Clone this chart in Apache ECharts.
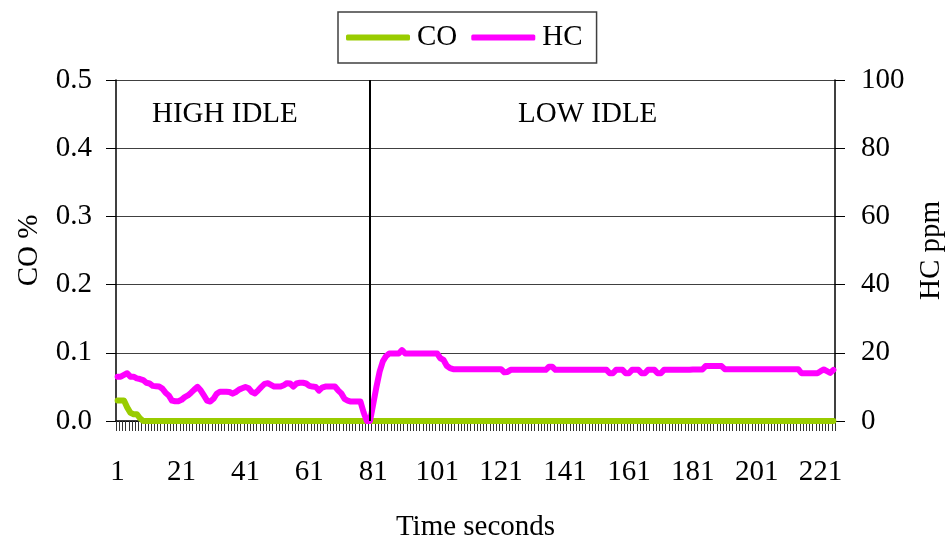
<!DOCTYPE html>
<html>
<head>
<meta charset="utf-8">
<script src="https://cdn.jsdelivr.net/npm/echarts@6/dist/echarts.min.js"></script>
<style>
html,body{margin:0;padding:0;background:#fff;}
#chart{width:947px;height:538px;}
</style>
</head>
<body>
<div id="chart"></div>
<script>
// Time in seconds (categories)
const categories = [];
for (let i = 1; i <= 225; i++) categories.push(String(i));

// CO % values (left axis)
const coHead = [0.03, 0.03, 0.03, 0.02, 0.012, 0.01, 0.01, 0.004];
const coValues = categories.map((c, i) => (i < coHead.length ? coHead[i] : 0));

// HC ppm values (right axis)
const hcValues = [
  13, 13, 13.5, 14, 13, 13, 12.5, 12.3, 12, 11.2,
  11, 10.3, 10.2, 10.1, 9.5, 8.3, 7.5, 6, 5.8, 5.8,
  6.2, 7, 7.5, 8.3, 9.2, 10, 9, 7.5, 6, 5.7,
  6.5, 8, 8.6, 8.6, 8.6, 8.5, 8, 8.5, 9.2, 9.6,
  10, 9.6, 8.5, 8.1, 9, 10, 10.9, 11.1, 10.6, 10.1,
  10.1, 10.1, 10.5, 11.1, 11, 10.1, 11, 11.2, 11.2, 11,
  10.3, 10.1, 10, 8.9, 9.8, 10.1, 10.1, 10.1, 10.1, 9,
  8.1, 6.5, 6, 5.7, 5.7, 5.7, 5.7, 2.5, 0, 0,
  5, 10, 14.5, 17.5, 19, 19.8, 19.8, 19.8, 19.8, 20.8,
  19.8, 19.8, 19.8, 19.8, 19.8, 19.8, 19.8, 19.8, 19.8, 19.8,
  19.8, 18.4, 17.9, 16.2, 15.5, 15.2, 15.2, 15.2, 15.2, 15.2,
  15.2, 15.2, 15.2, 15.2, 15.2, 15.2, 15.2, 15.2, 15.2, 15.2,
  15.2, 14.3, 14.4, 15, 15, 15, 15, 15, 15, 15,
  15, 15, 15, 15, 15, 15.9, 15.9, 15, 15, 15,
  15, 15, 15, 15, 15, 15, 15, 15, 15, 15,
  15, 15, 15, 15, 14, 14, 15, 15, 15, 14,
  14, 15, 15, 15, 14, 14, 15, 15, 15, 14,
  14, 15, 15, 15, 15, 15, 15, 15, 15, 15,
  15.1, 15.1, 15.1, 15.1, 16.1, 16.1, 16.1, 16.1, 16.1, 16.1,
  15.2, 15.2, 15.2, 15.2, 15.2, 15.2, 15.2, 15.2, 15.2, 15.2,
  15.2, 15.2, 15.2, 15.2, 15.2, 15.2, 15.2, 15.2, 15.2, 15.2,
  15.2, 15.2, 15.2, 15.2, 14, 14, 14, 14, 14, 14,
  14.6, 15.1, 14.6, 14.1, 15
];

// Tick values
const coTicks = [0.0, 0.1, 0.2, 0.3, 0.4, 0.5];
const hcTicks = [0, 20, 40, 60, 80, 100];
const phaseLabels = ['HIGH IDLE', 'LOW IDLE'];
const phaseBoundaryIndex = 79; // second 80

const FONT = "'Liberation Serif', 'Times New Roman', serif";
const FS = 29;
const chart = echarts.init(document.getElementById('chart'));

chart.setOption({
  animation: false,
  backgroundColor: '#ffffff',
  textStyle: { fontFamily: FONT, color: '#000' },
  legend: {
    left: 338,
    top: 12,
    padding: [11, 14, 11, 8],
    itemGap: 14,
    itemWidth: 64,
    itemHeight: 6,
    borderColor: '#404040',
    borderWidth: 1.5,
    icon: 'roundRect',
    textStyle: { fontFamily: FONT, fontSize: FS, color: '#000', padding: [0, 0, 0, 2] },
    data: ['CO', 'HC']
  },
  grid: { left: 116, right: 112, top: 80, bottom: 117, containLabel: false, outerBoundsMode: 'none' },
  xAxis: {
    type: 'category',
    data: categories,
    boundaryGap: true,
    name: 'Time seconds',
    nameLocation: 'middle',
    nameGap: 92,
    nameTextStyle: { fontFamily: FONT, fontSize: FS, color: '#000' },
    axisLine: { lineStyle: { color: '#000', width: 1.5 } },
    axisTick: { show: true, interval: 0, length: 10, lineStyle: { color: '#333', width: 1 } },
    axisLabel: { interval: 19, margin: 37, fontFamily: FONT, fontSize: FS, color: '#000' },
    splitLine: { show: false }
  },
  yAxis: [
    {
      type: 'value',
      min: 0,
      max: 0.5,
      interval: 0.1,
      name: 'CO %',
      nameLocation: 'middle',
      nameGap: 72,
      nameRotate: 90,
      nameTextStyle: { fontFamily: FONT, fontSize: FS, color: '#000' },
      axisLine: { show: true, lineStyle: { color: '#000', width: 1.5 } },
      axisTick: { show: true, length: 10, lineStyle: { color: '#000' } },
      axisLabel: {
        margin: 24, fontFamily: FONT, fontSize: FS, color: '#000',
        formatter: v => (coTicks.indexOf(Math.round(v * 10) / 10) >= 0 ? v.toFixed(1) : '')
      },
      splitLine: { show: true, lineStyle: { color: '#404040', width: 1.2 } }
    },
    {
      type: 'value',
      min: 0,
      max: 100,
      interval: 20,
      name: 'HC ppm',
      nameLocation: 'middle',
      nameGap: 82,
      nameRotate: 90,
      nameTextStyle: { fontFamily: FONT, fontSize: FS, color: '#000' },
      axisLine: { show: true, lineStyle: { color: '#000', width: 1.5 } },
      axisTick: { show: true, length: 10, lineStyle: { color: '#000' } },
      axisLabel: {
        margin: 26, fontFamily: FONT, fontSize: FS, color: '#000',
        formatter: v => (hcTicks.indexOf(v) >= 0 ? String(v) : '')
      },
      splitLine: { show: false }
    }
  ],
  graphic: [
    { type: 'text', left: 152, top: 100, style: { text: phaseLabels[0], font: FS + "px " + FONT, fill: '#000' } },
    { type: 'text', left: 518, top: 100, style: { text: phaseLabels[1], font: FS + "px " + FONT, fill: '#000' } }
  ],
  series: [
    {
      name: 'CO',
      type: 'line',
      yAxisIndex: 0,
      data: coValues,
      symbol: 'none',
      color: '#99CC00',
      lineStyle: { color: '#99CC00', width: 6, cap: 'round', join: 'round' },
      z: 3
    },
    {
      name: 'HC',
      type: 'line',
      yAxisIndex: 1,
      data: hcValues,
      symbol: 'none',
      color: '#FF00FF',
      lineStyle: { color: '#FF00FF', width: 6, cap: 'round', join: 'round' },
      z: 4,
      markLine: {
        silent: true,
        symbol: ['none', 'none'],
        label: { show: false },
        lineStyle: { color: '#000', width: 2, type: 'solid' },
        data: [{ xAxis: phaseBoundaryIndex }],
        z: 5
      }
    }
  ]
});
</script>
</body>
</html>
